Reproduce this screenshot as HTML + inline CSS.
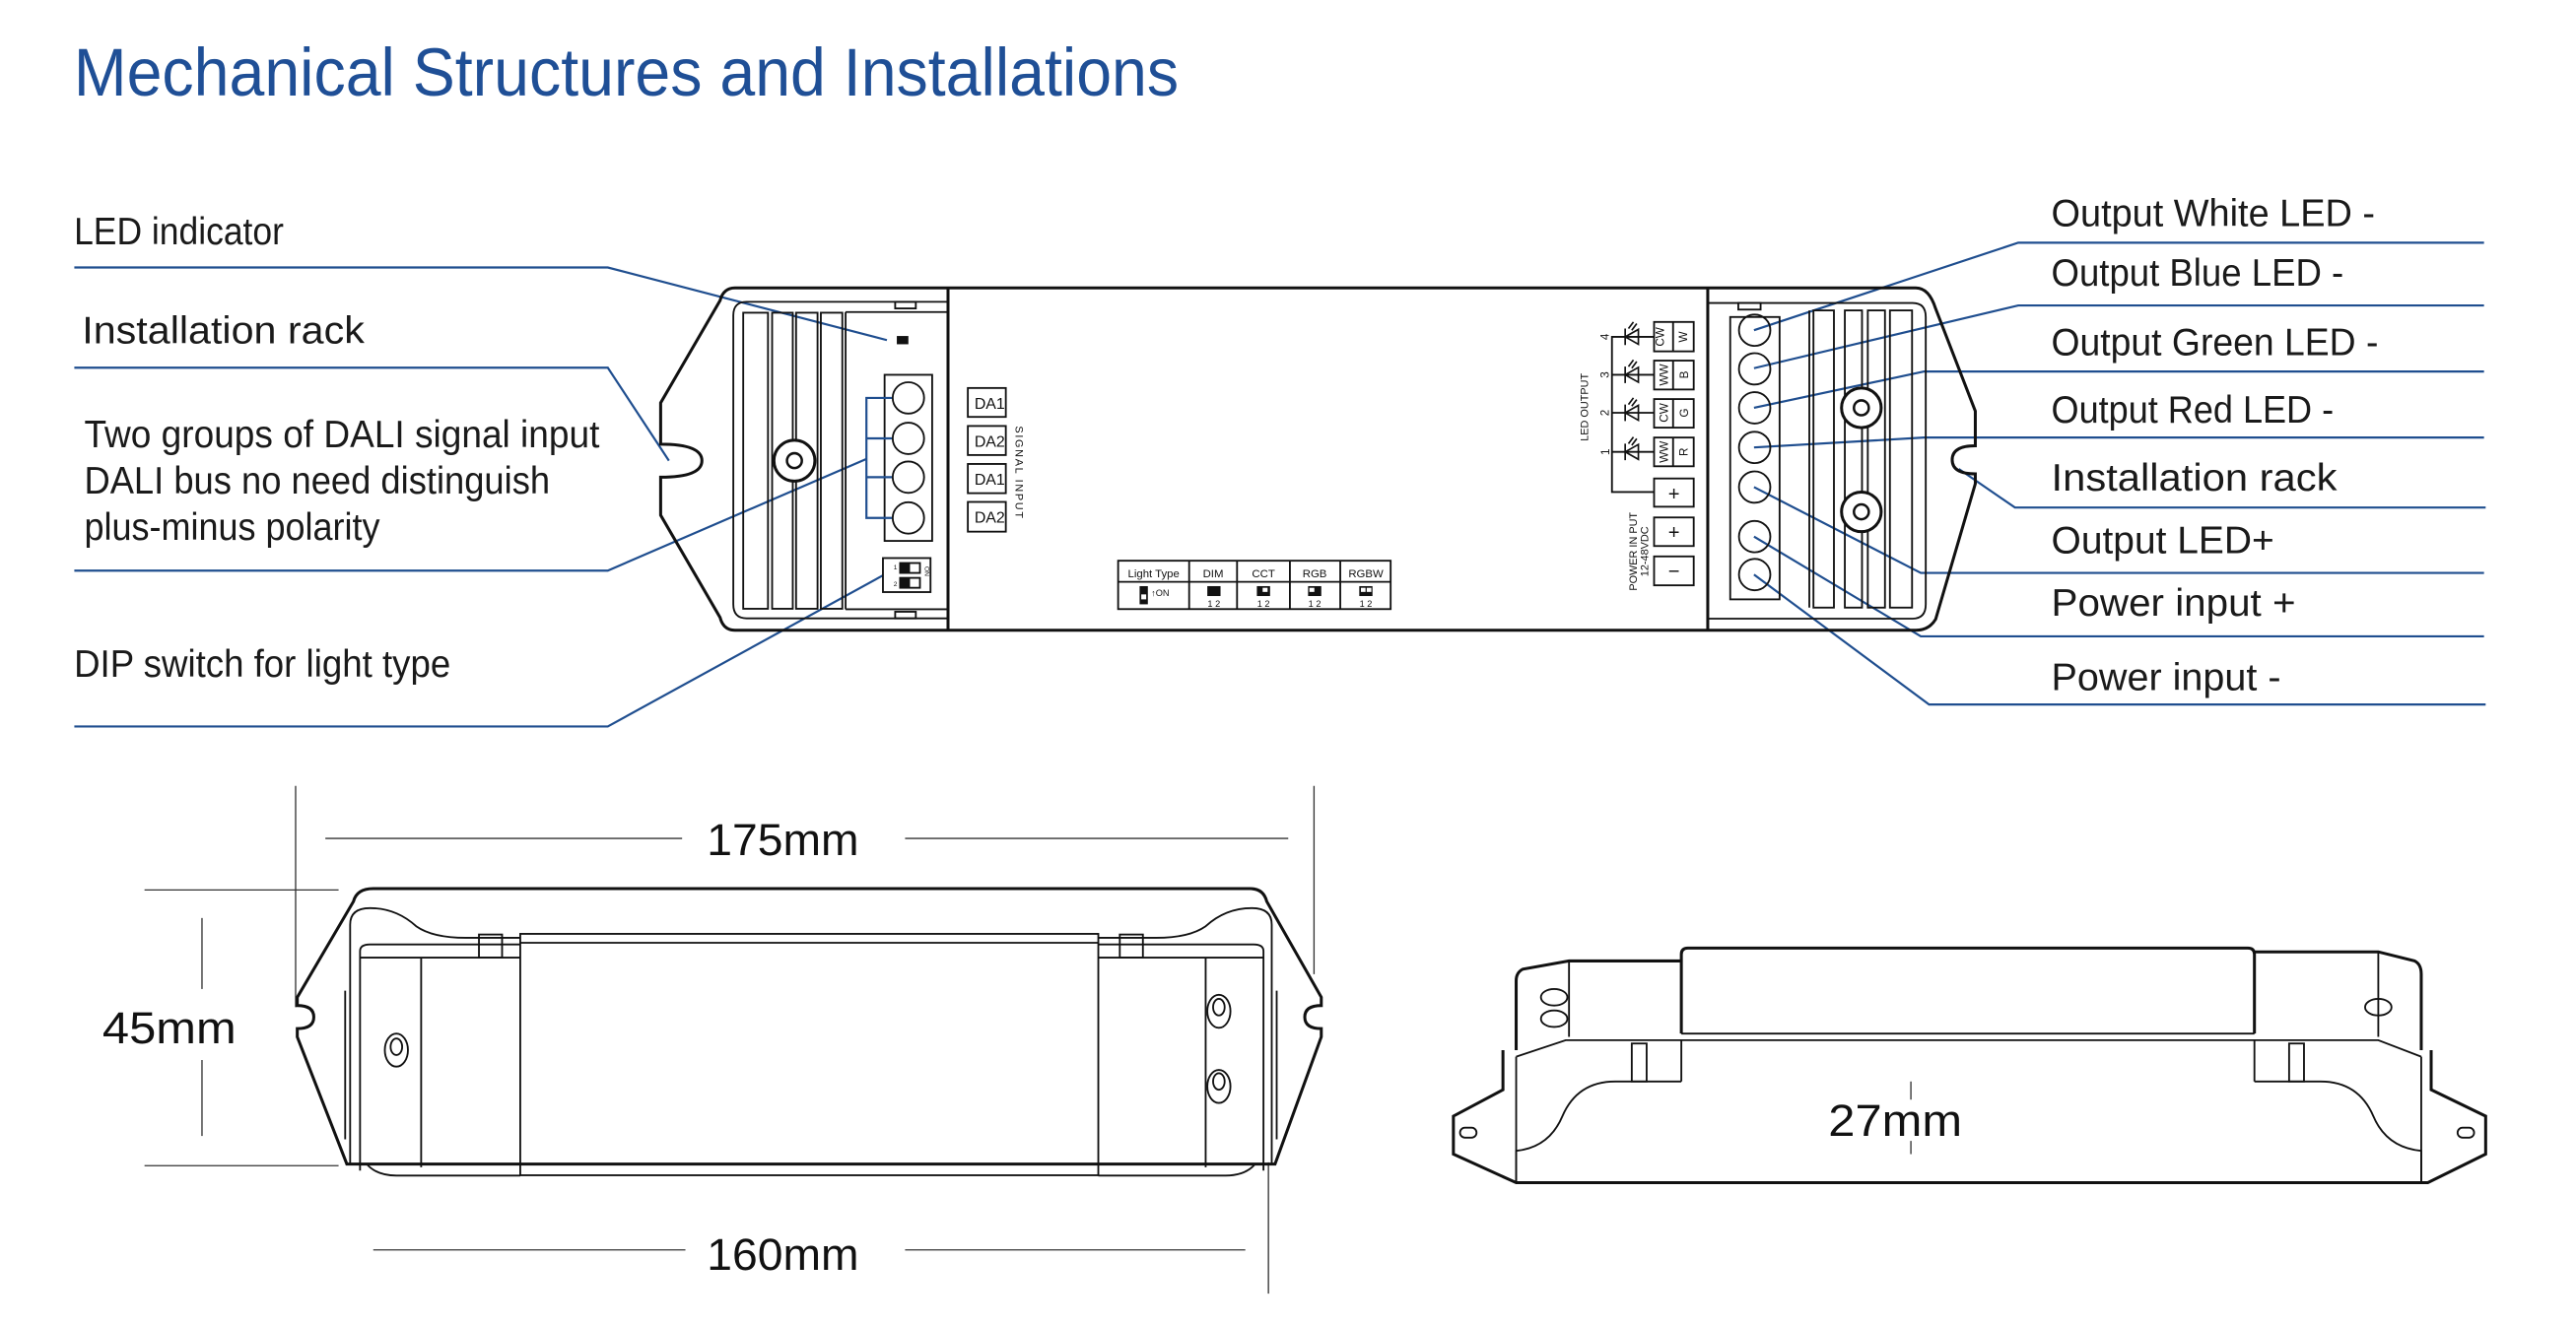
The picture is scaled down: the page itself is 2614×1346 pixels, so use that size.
<!DOCTYPE html>
<html><head><meta charset="utf-8"><style>
html,body{margin:0;padding:0;background:#fff;}
svg{display:block;}
.lbl{font-family:"Liberation Sans",sans-serif;font-size:23px;fill:#1a1a1a;font-weight:normal;}
.bl{stroke:#1f4e8f;stroke-width:1.3;fill:none;}
.k{stroke:#111;fill:none;stroke-width:1.1;}
.K{stroke:#111;fill:none;stroke-width:1.8;}
.t{font-family:"Liberation Sans",sans-serif;fill:#111;}
.dim{font-family:"Liberation Sans",sans-serif;font-size:27px;fill:#111;}
.g{stroke:#333;stroke-width:0.8;fill:none;}
</style></head><body>
<svg width="2614" height="1346" viewBox="0 0 1559.7 803.1" preserveAspectRatio="none" xmlns="http://www.w3.org/2000/svg">
<rect width="1559.7" height="803.1" fill="#fff"/>
<text x="44.7" y="58" font-family="Liberation Sans,sans-serif" font-size="41" fill="#1f4f96" textLength="669" lengthAdjust="spacingAndGlyphs">Mechanical Structures and Installations</text>

<!-- left labels -->
<text class="lbl" x="44.8" y="148" textLength="127" lengthAdjust="spacingAndGlyphs">LED indicator</text>
<text class="lbl" x="49.7" y="208" textLength="171" lengthAdjust="spacingAndGlyphs">Installation rack</text>
<text class="lbl" x="51" y="271" textLength="312" lengthAdjust="spacingAndGlyphs">Two groups of DALI signal input</text>
<text class="lbl" x="51" y="299" textLength="282" lengthAdjust="spacingAndGlyphs">DALI bus no need distinguish</text>
<text class="lbl" x="51" y="327" textLength="179" lengthAdjust="spacingAndGlyphs">plus-minus polarity</text>
<text class="lbl" x="44.8" y="410" textLength="228" lengthAdjust="spacingAndGlyphs">DIP switch for light type</text>
<polyline class="bl" points="45,162 368,162 537,206"/>
<polyline class="bl" points="45,222.7 368,222.7 405,279"/>
<polyline class="bl" points="45,345.6 368,345.6 524.6,278"/>
<polyline class="bl" points="45,440 368,440 534.6,348.5"/>

<!-- right labels -->
<text class="lbl" x="1242" y="137" textLength="196" lengthAdjust="spacingAndGlyphs">Output White LED -</text>
<text class="lbl" x="1242" y="173" textLength="177" lengthAdjust="spacingAndGlyphs">Output Blue LED -</text>
<text class="lbl" x="1242" y="215" textLength="198" lengthAdjust="spacingAndGlyphs">Output Green LED -</text>
<text class="lbl" x="1242" y="256" textLength="171" lengthAdjust="spacingAndGlyphs">Output Red LED -</text>
<text class="lbl" x="1242" y="297" textLength="173" lengthAdjust="spacingAndGlyphs">Installation rack</text>
<text class="lbl" x="1242" y="335" textLength="135" lengthAdjust="spacingAndGlyphs">Output LED+</text>
<text class="lbl" x="1242" y="373" textLength="148" lengthAdjust="spacingAndGlyphs">Power input +</text>
<text class="lbl" x="1242" y="418" textLength="139" lengthAdjust="spacingAndGlyphs">Power input -</text>
<polyline class="bl" points="1062,200 1222,147 1504,147"/>
<polyline class="bl" points="1062,223 1222,185 1504,185"/>
<polyline class="bl" points="1062,247 1165,225 1504,225"/>
<polyline class="bl" points="1062,271 1165,265 1504,265"/>
<polyline class="bl" points="1186,284 1220,307.4 1505,307.4"/>
<polyline class="bl" points="1062,295 1163,347 1504,347"/>
<polyline class="bl" points="1062,325 1163,385.4 1504,385.4"/>
<polyline class="bl" points="1062,348 1168,426.7 1505,426.7"/>

<!-- main device top -->
<path class="K" d="M445,174.4 H1160 Q1168,174.4 1172,187 L1196,249 V270 Q1182,270 1182,278.5 Q1182,287 1196,287 V293 L1172,375 Q1168,381.7 1160,381.7 H445 Q438,381.7 436,374 L400,312 V289 Q425,289 425,279 Q425,269 400,269 V244 L436,182 Q438,174.4 445,174.4 Z"/>
<path class="k" d="M574,182.8 H452 Q444,182.8 444,191 V366 Q444,374.5 452,374.5 H574"/>
<line class="K" x1="574" y1="174.4" x2="574" y2="381.7"/>
<line class="K" x1="1034" y1="174.4" x2="1034" y2="381.7"/>
<path class="k" d="M1034,183.5 H1158 Q1166,183.5 1166,192 V366 Q1166,374.7 1158,374.7 H1034"/>
<!-- left rack -->
<g class="k">
<rect x="450" y="189.4" width="15" height="179.3"/>
<rect x="467.5" y="189.4" width="12.5" height="179.3"/>
<rect x="482" y="189.4" width="13" height="179.3"/>
<rect x="497" y="189.4" width="13" height="179.3"/>
<line x1="512" y1="189" x2="512" y2="369"/>
<line x1="512" y1="189" x2="574" y2="189"/>
<line x1="512" y1="369" x2="574" y2="369"/>
<rect x="542" y="182.8" width="12.5" height="4"/>
<rect x="542" y="370.5" width="12.5" height="4"/>
</g>
<circle cx="481" cy="279" r="12.4" fill="#fff" stroke="#111" stroke-width="1.8"/>
<circle cx="481" cy="279" r="4.5" fill="none" stroke="#111" stroke-width="1.5"/>
<rect x="543" y="203.5" width="7" height="5" fill="#111"/>
<rect class="k" x="535.6" y="227" width="28.8" height="100.6"/>
<g class="k"><circle cx="550" cy="241" r="9.5"/><circle cx="550" cy="265.5" r="9.5"/><circle cx="550" cy="289" r="9.5"/><circle cx="550" cy="313.7" r="9.5"/></g>
<path class="bl" d="M540,241 H524.6 V313.7 H540 M524.6,265.5 H540 M524.6,289 H540"/>
<rect class="k" x="534.6" y="338" width="28.8" height="20.6"/>
<rect class="k" x="545" y="341" width="12" height="6"/><rect x="545" y="341" width="6" height="6" fill="#111"/>
<rect class="k" x="545" y="350" width="12" height="6"/><rect x="545" y="350" width="6" height="6" fill="#111"/>
<text class="t" x="541" y="345" font-size="4">1</text><text class="t" x="541" y="355" font-size="4">2</text>
<text class="t" x="560" y="343" font-size="4" transform="rotate(90 560 343)">ON</text>
<!-- DA boxes -->
<g class="k"><rect x="586" y="235" width="23" height="17.5"/><rect x="586" y="258" width="23" height="17.6"/><rect x="586" y="281" width="23" height="17.7"/><rect x="586" y="304" width="23" height="18"/></g>
<g class="t" font-size="9.5"><text x="590" y="247.5">DA1</text><text x="590" y="270.5">DA2</text><text x="590" y="293.5">DA1</text><text x="590" y="316.5">DA2</text></g>
<text class="t" x="615" y="258" font-size="6.5" letter-spacing="1" transform="rotate(90 615 258)">SIGNAL INPUT</text>
<!-- light type table -->
<g class="k"><rect x="677" y="339.6" width="165" height="29.3"/><line x1="677" y1="352.4" x2="842" y2="352.4"/>
<line x1="720" y1="339.6" x2="720" y2="368.9"/><line x1="749" y1="339.6" x2="749" y2="368.9"/><line x1="781" y1="339.6" x2="781" y2="368.9"/><line x1="811.5" y1="339.6" x2="811.5" y2="368.9"/></g>
<g class="t" font-size="6.8" text-anchor="middle"><text x="698.5" y="349.5">Light Type</text><text x="734.5" y="349.5">DIM</text><text x="765" y="349.5">CCT</text><text x="796" y="349.5">RGB</text><text x="827" y="349.5">RGBW</text></g>
<g fill="#111"><rect x="690" y="355" width="5" height="11"/><rect x="731" y="355" width="8" height="6"/><rect x="761" y="355" width="8" height="6"/><rect x="792" y="355" width="8" height="6"/><rect x="823" y="355" width="8" height="6"/></g>
<g fill="#fff"><rect x="691" y="360" width="3" height="3"/><rect x="764.5" y="356" width="3" height="2.5"/><rect x="792.8" y="356" width="3" height="2.5"/><rect x="824" y="356" width="2.8" height="2.5"/><rect x="827.5" y="356" width="2.8" height="2.5"/></g>
<text class="t" x="697" y="361" font-size="5.5">↑ON</text>
<g class="t" font-size="5.5" text-anchor="middle"><text x="735" y="367.5">1 2</text><text x="765" y="367.5">1 2</text><text x="796" y="367.5">1 2</text><text x="827" y="367.5">1 2</text></g>
<!-- LED output -->
<g class="k">
<rect x="1001.5" y="195" width="24" height="17.8"/><line x1="1013" y1="195" x2="1013" y2="212.8"/>
<rect x="1001.5" y="218.4" width="24" height="17.5"/><line x1="1013" y1="218.4" x2="1013" y2="235.9"/>
<rect x="1001.5" y="241.7" width="24" height="17.3"/><line x1="1013" y1="241.7" x2="1013" y2="259"/>
<rect x="1001.5" y="265" width="24" height="17.4"/><line x1="1013" y1="265" x2="1013" y2="282.4"/>
<rect x="1001.5" y="289.8" width="24" height="17.1"/>
<rect x="1001.5" y="313.4" width="24" height="17.3"/>
<rect x="1001.5" y="337" width="24" height="17.5"/>
<path d="M1001.5,204 H976 V298 H1001.5 M976,227 H1001.5 M976,250 H1001.5 M976,273.7 H1001.5"/>
</g>
<g fill="none" stroke="#111" stroke-width="1">
<path d="M984,199 V209 M984,204 L992,199.5 V208.5 Z M986,199 l3,-4 M988,200 l3,-4"/>
<path d="M984,222 V232 M984,227 L992,222.5 V231.5 Z M986,222 l3,-4 M988,223 l3,-4"/>
<path d="M984,245 V255 M984,250 L992,245.5 V254.5 Z M986,245 l3,-4 M988,246 l3,-4"/>
<path d="M984,268.7 V278.7 M984,273.7 L992,269.2 V278.2 Z M986,268.7 l3,-4 M988,269.7 l3,-4"/>
</g>
<g class="t" font-size="7" text-anchor="middle">
<text x="1007.5" y="204" transform="rotate(-90 1007.5 204)">CW</text><text x="1019.5" y="206" transform="rotate(-90 1019.5 204)">W</text>
<text x="1007.5" y="229.5" transform="rotate(-90 1007.5 227)">WW</text><text x="1019.5" y="229.5" transform="rotate(-90 1019.5 227)">B</text>
<text x="1007.5" y="252.5" transform="rotate(-90 1007.5 250)">CW</text><text x="1019.5" y="252.5" transform="rotate(-90 1019.5 250)">G</text>
<text x="1007.5" y="276" transform="rotate(-90 1007.5 273.7)">WW</text><text x="1019.5" y="276" transform="rotate(-90 1019.5 273.7)">R</text>
<text x="972" y="206" transform="rotate(-90 972 204)">4</text><text x="972" y="229" transform="rotate(-90 972 227)">3</text>
<text x="972" y="252" transform="rotate(-90 972 250)">2</text><text x="972" y="276" transform="rotate(-90 972 273.7)">1</text>
<text x="959" y="249" transform="rotate(-90 959 246.6)" font-size="6.5">LED OUTPUT</text>
<text x="989" y="336" transform="rotate(-90 989 334)" font-size="6.5">POWER IN PUT</text>
<text x="996" y="336" transform="rotate(-90 996 334)" font-size="6.5">12-48VDC</text>
</g>
<g class="t" font-size="12" text-anchor="middle"><text x="1013.5" y="303">+</text><text x="1013.5" y="326.5">+</text><text x="1013.5" y="350">−</text></g>
<!-- right terminal + rack -->
<rect class="k" x="1047.6" y="192" width="29.9" height="171"/>
<g class="k"><circle cx="1062.4" cy="200" r="9.5"/><circle cx="1062.4" cy="223.4" r="9.5"/><circle cx="1062.4" cy="247" r="9.5"/><circle cx="1062.4" cy="271" r="9.5"/><circle cx="1062.4" cy="295" r="9.5"/><circle cx="1062.4" cy="325" r="9.5"/><circle cx="1062.4" cy="348" r="9.5"/></g>
<g class="k">
<rect x="1052.5" y="183.5" width="13.5" height="4"/>
<line x1="1095.5" y1="188" x2="1095.5" y2="368"/>
<rect x="1098" y="188" width="12.4" height="180"/>
<rect x="1117" y="188" width="10.4" height="180"/>
<rect x="1130.9" y="188" width="10.4" height="180"/>
<rect x="1144.3" y="188" width="13.4" height="180"/>
</g>
<g><circle cx="1127" cy="247" r="12" fill="#fff" stroke="#111" stroke-width="1.8"/><circle cx="1127" cy="247" r="4.5" fill="none" stroke="#111" stroke-width="1.5"/>
<circle cx="1127" cy="310" r="12" fill="#fff" stroke="#111" stroke-width="1.8"/><circle cx="1127" cy="310" r="4.5" fill="none" stroke="#111" stroke-width="1.5"/></g>

<!-- dimensions top view -->
<g class="g">
<line x1="179" y1="476" x2="179" y2="610"/><line x1="795.6" y1="476" x2="795.6" y2="590"/>
<line x1="197" y1="507.8" x2="413" y2="507.8"/><line x1="548" y1="507.8" x2="780" y2="507.8"/>
<line x1="122.3" y1="556" x2="122.3" y2="599"/><line x1="122.3" y1="642" x2="122.3" y2="688"/>
<line x1="87.5" y1="539" x2="205" y2="539"/><line x1="87.5" y1="706" x2="205" y2="706"/>
<line x1="226" y1="757" x2="415" y2="757"/><line x1="548" y1="757" x2="754" y2="757"/>
<line x1="768" y1="704" x2="768" y2="783.5"/>
</g>
<text class="dim" x="428" y="518" textLength="92" lengthAdjust="spacingAndGlyphs">175mm</text>
<text class="dim" x="62" y="632" textLength="81" lengthAdjust="spacingAndGlyphs">45mm</text>
<text class="dim" x="428" y="769" textLength="92" lengthAdjust="spacingAndGlyphs">160mm</text>
<text class="dim" x="1107" y="688" textLength="81" lengthAdjust="spacingAndGlyphs">27mm</text>

<!-- top view device -->
<path class="K" d="M226,538.2 H757 Q765,538.2 767,546 L800,604 V609 Q790,609 790,616 Q790,623 800,623 V628 L772,705 H210 L180,628 V623 Q190,623 190,616 Q190,609 180,609 V604 L214,546 Q216,538.2 226,538.2 Z"/>
<g class="k">
<path d="M212,705 V560 Q212,550 224,550 Q240,550 252,561 Q262,568 282,568 H315"/>
<path d="M770,705 V560 Q770,550 758,550 Q742,550 730,561 Q720,568 700,568 H665"/>
<rect x="315" y="565.6" width="350" height="146.2"/>
<line x1="315" y1="571" x2="665" y2="571"/>
<path d="M218,709 V576 Q218,572 224,572 H315 M218,580 H315"/>
<path d="M765,709 V576 Q765,572 759,572 H665 M765,580 H665"/>
<line x1="255" y1="580" x2="255" y2="707"/>
<line x1="730" y1="580" x2="730" y2="707"/>
<rect x="290" y="566" width="14" height="14"/><rect x="678" y="566" width="14" height="14"/>
<path d="M222,705 Q228,712 240,712 H315 M760,705 Q754,712 742,712 H665"/>
<line x1="209" y1="600" x2="209" y2="690"/><line x1="773" y1="600" x2="773" y2="690"/>
</g>
<g class="k"><ellipse cx="240" cy="636" rx="7" ry="10"/><ellipse cx="240" cy="634" rx="3.5" ry="5"/>
<ellipse cx="738" cy="612.5" rx="7" ry="10"/><ellipse cx="738" cy="610" rx="3.5" ry="5"/>
<ellipse cx="738" cy="658" rx="7" ry="10"/><ellipse cx="738" cy="655" rx="3.5" ry="5"/></g>

<!-- side view device -->
<g class="K">
<path d="M1018,626 V578 Q1018,574.2 1022,574.2 H1361 Q1365,574.2 1365,578 V626"/>
<path d="M1018,582 H950 L922,587 Q918,589 918,594 V636"/>
<path d="M1365,576.5 H1440 L1462,582 Q1466,584 1466,590 V636"/>
<path d="M910,636 V660 L880,676 V699 L918,716.3 H1470 L1505,699 V676 L1472,660 V636"/>
</g>
<g class="k">
<line x1="1018" y1="626" x2="1365" y2="626"/><line x1="1018" y1="630" x2="1365" y2="630"/>
<line x1="950" y1="582" x2="950" y2="628"/><line x1="1440" y1="577" x2="1440" y2="628"/>
<path d="M918,640 L948,630 H1018 V655 M1466,640 L1440,630 H1365 V655"/>
<path d="M1018,655 H978 Q955,655 946,676 Q938,695 918,697 V716"/>
<path d="M1365,655 H1405 Q1428,655 1437,676 Q1445,695 1466,697 V716"/>
<rect x="988" y="632" width="9" height="23"/><rect x="1386" y="632" width="9" height="23"/>
<line x1="918" y1="640" x2="918" y2="716"/><line x1="1466" y1="640" x2="1466" y2="716"/>
<ellipse cx="941" cy="604" rx="8" ry="5"/><ellipse cx="941" cy="617" rx="8" ry="5"/>
<ellipse cx="1440" cy="610" rx="8" ry="5"/>
<rect x="884" y="683" width="10" height="6" rx="3"/><rect x="1488" y="683" width="10" height="6" rx="3"/>
</g>
<g class="g"><line x1="1157" y1="655" x2="1157" y2="666"/><line x1="1157" y1="691" x2="1157" y2="699"/></g>
</svg>
</body></html>
